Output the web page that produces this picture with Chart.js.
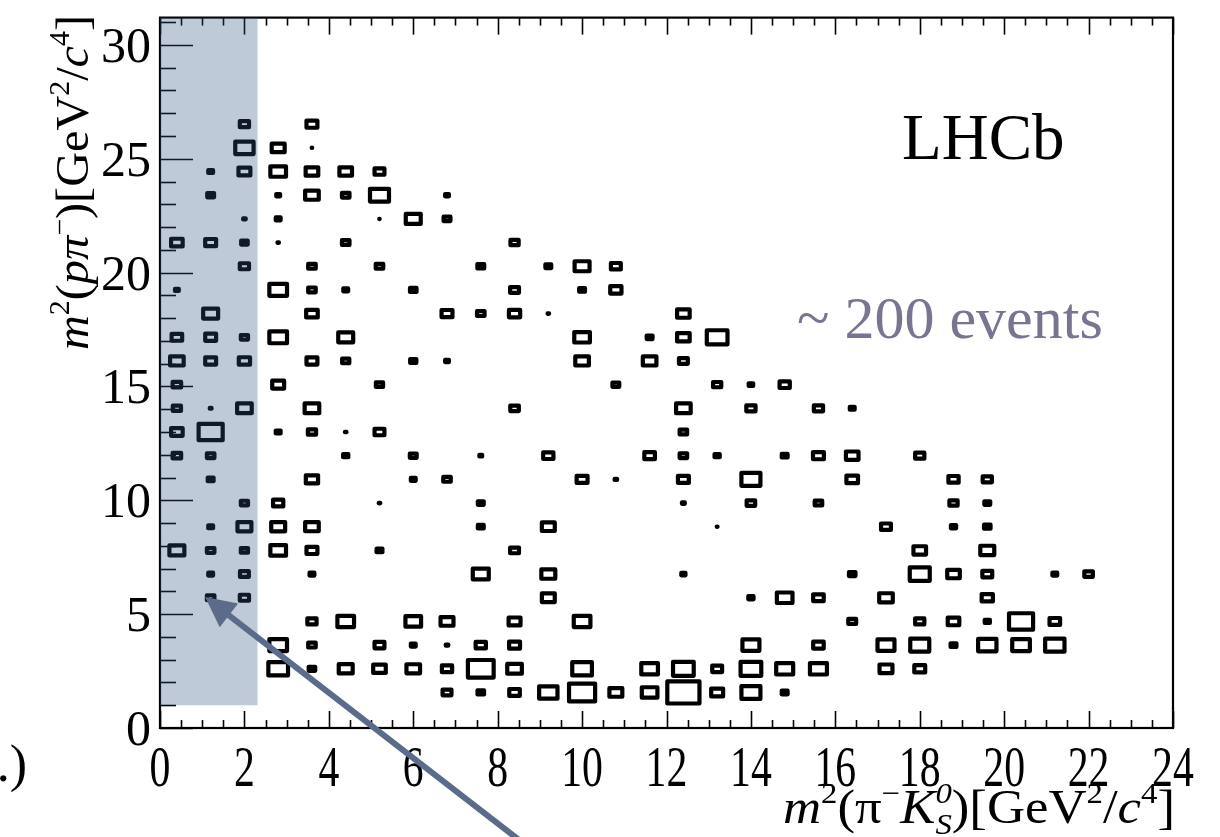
<!DOCTYPE html>
<html>
<head>
<meta charset="utf-8">
<script src="https://cdn.jsdelivr.net/npm/chart.js@4.4.1/dist/chart.umd.min.js"></script>
<style>
  html, body { margin: 0; padding: 0; background: #ffffff; }
  canvas { display: block; }
</style>
</head>
<body>
<canvas id="dalitz" width="1220" height="837"></canvas>
<script>
// Binning of the Dalitz plane: 30 x 30 cells
const xBinWidth = 0.8;
const yBinWidth = 1.04;
const xRange = [0, 24];
const yRange = [0, 31.2];

// Axis tick labels
const xTickLabels = ['0', '2', '4', '6', '8', '10', '12', '14', '16', '18', '20', '22', '24'];
const yTickLabels = ['0', '5', '10', '15', '20', '25', '30'];

// Occupied cells: [m2(pi- KS0) centre, m2(p pi-) centre, relative content]
const cells = [
  // m2(p pi-) = 26.52
  [2.0, 26.52, 0.32], [3.6, 26.52, 0.37],
  // 25.48
  [2.0, 25.48, 0.59], [2.8, 25.48, 0.43], [3.6, 25.48, 0.03],
  // 24.44
  [1.2, 24.44, 0.19], [2.0, 24.44, 0.40], [2.8, 24.44, 0.51], [3.6, 24.44, 0.42], [4.4, 24.44, 0.42], [5.2, 24.44, 0.34],
  // 23.40
  [1.2, 23.40, 0.25], [2.8, 23.40, 0.16], [3.6, 23.40, 0.45], [4.4, 23.40, 0.27], [5.2, 23.40, 0.61], [6.8, 23.40, 0.16],
  // 22.36
  [2.0, 22.36, 0.12], [2.8, 22.36, 0.19], [5.2, 22.36, 0.06], [6.0, 22.36, 0.49], [6.8, 22.36, 0.25],
  // 21.32
  [0.4, 21.32, 0.39], [1.2, 21.32, 0.37], [2.0, 21.32, 0.24], [2.8, 21.32, 0.09], [4.4, 21.32, 0.27], [8.4, 21.32, 0.29],
  // 20.28
  [2.0, 20.28, 0.32], [3.6, 20.28, 0.27], [5.2, 20.28, 0.27], [7.6, 20.28, 0.25], [9.2, 20.28, 0.22], [10.0, 20.28, 0.49], [10.8, 20.28, 0.34],
  // 19.24
  [0.4, 19.24, 0.16], [2.8, 19.24, 0.57], [3.6, 19.24, 0.27], [4.4, 19.24, 0.19], [6.0, 19.24, 0.24], [8.4, 19.24, 0.31], [10.0, 19.24, 0.22], [10.8, 19.24, 0.38],
  // 18.20
  [1.2, 18.20, 0.49], [3.6, 18.20, 0.39], [6.8, 18.20, 0.37], [7.6, 18.20, 0.27], [8.4, 18.20, 0.38], [9.2, 18.20, 0.09], [12.4, 18.20, 0.42],
  // 17.16
  [0.4, 17.16, 0.36], [1.2, 17.16, 0.37], [2.0, 17.16, 0.26], [2.8, 17.16, 0.57], [4.4, 17.16, 0.49], [10.0, 17.16, 0.51], [11.6, 17.16, 0.22], [12.4, 17.16, 0.42], [13.2, 17.16, 0.66],
  // 16.12
  [0.4, 16.12, 0.45], [1.2, 16.12, 0.37], [2.0, 16.12, 0.38], [3.6, 16.12, 0.37], [4.4, 16.12, 0.26], [6.0, 16.12, 0.23], [6.8, 16.12, 0.16], [10.0, 16.12, 0.45], [11.6, 16.12, 0.45], [12.4, 16.12, 0.31],
  // 15.08
  [0.4, 15.08, 0.30], [2.8, 15.08, 0.40], [5.2, 15.08, 0.26], [10.8, 15.08, 0.25], [13.2, 15.08, 0.29], [14.0, 15.08, 0.18], [14.8, 15.08, 0.35],
  // 14.04
  [0.4, 14.04, 0.29], [1.2, 14.04, 0.10], [2.0, 14.04, 0.48], [3.6, 14.04, 0.48], [8.4, 14.04, 0.30], [12.4, 14.04, 0.48], [14.0, 14.04, 0.32], [15.6, 14.04, 0.32], [16.4, 14.04, 0.19],
  // 13.00
  [0.4, 13.00, 0.39], [1.2, 13.00, 0.76], [2.8, 13.00, 0.19], [3.6, 13.00, 0.29], [4.4, 13.00, 0.09], [5.2, 13.00, 0.34], [12.4, 13.00, 0.27],
  // 11.96
  [0.4, 11.96, 0.30], [1.2, 11.96, 0.27], [4.4, 11.96, 0.20], [6.0, 11.96, 0.25], [7.6, 11.96, 0.13], [9.2, 11.96, 0.35], [11.6, 11.96, 0.36], [12.4, 11.96, 0.27], [13.2, 11.96, 0.20], [14.8, 11.96, 0.22], [15.6, 11.96, 0.37], [16.4, 11.96, 0.42], [18.0, 11.96, 0.32],
  // 10.92
  [1.2, 10.92, 0.22], [3.6, 10.92, 0.41], [6.0, 10.92, 0.19], [6.8, 10.92, 0.27], [10.0, 10.92, 0.37], [10.8, 10.92, 0.12], [12.4, 10.92, 0.37], [14.0, 10.92, 0.61], [16.4, 10.92, 0.39], [18.8, 10.92, 0.35], [19.6, 10.92, 0.32],
  // 9.88
  [2.0, 9.88, 0.26], [2.8, 9.88, 0.35], [5.2, 9.88, 0.09], [7.6, 9.88, 0.22], [12.4, 9.88, 0.13], [14.0, 9.88, 0.30], [15.6, 9.88, 0.27], [18.8, 9.88, 0.29], [19.6, 9.88, 0.22],
  // 8.84
  [1.2, 8.84, 0.19], [2.0, 8.84, 0.46], [2.8, 8.84, 0.46], [3.6, 8.84, 0.45], [7.6, 8.84, 0.22], [9.2, 8.84, 0.43], [13.2, 8.84, 0.07], [17.2, 8.84, 0.34], [18.8, 8.84, 0.20], [19.6, 8.84, 0.24],
  // 7.80
  [0.4, 7.80, 0.49], [1.2, 7.80, 0.27], [2.0, 7.80, 0.26], [2.8, 7.80, 0.51], [3.6, 7.80, 0.37], [5.2, 7.80, 0.22], [8.4, 7.80, 0.31], [18.0, 7.80, 0.42], [19.6, 7.80, 0.46],
  // 6.76
  [1.2, 6.76, 0.19], [2.0, 6.76, 0.31], [3.6, 6.76, 0.19], [7.6, 6.76, 0.52], [9.2, 6.76, 0.46], [12.4, 6.76, 0.17], [16.4, 6.76, 0.24], [18.0, 6.76, 0.64], [18.8, 6.76, 0.42], [19.6, 6.76, 0.34], [21.2, 6.76, 0.19], [22.0, 6.76, 0.30],
  // 5.72
  [1.2, 5.72, 0.27], [2.0, 5.72, 0.32], [9.2, 5.72, 0.43], [14.0, 5.72, 0.20], [14.8, 5.72, 0.51], [15.6, 5.72, 0.36], [17.2, 5.72, 0.45], [19.6, 5.72, 0.38],
  // 4.68
  [3.6, 4.68, 0.32], [4.4, 4.68, 0.54], [6.0, 4.68, 0.51], [6.8, 4.68, 0.43], [8.4, 4.68, 0.40], [10.0, 4.68, 0.54], [16.4, 4.68, 0.28], [18.0, 4.68, 0.32], [18.8, 4.68, 0.39], [19.6, 4.68, 0.20], [20.4, 4.68, 0.76], [21.2, 4.68, 0.36],
  // 3.64
  [2.8, 3.64, 0.57], [3.6, 3.64, 0.27], [5.2, 3.64, 0.34], [6.0, 3.64, 0.19], [6.8, 3.64, 0.12], [7.6, 3.64, 0.35], [8.4, 3.64, 0.37], [14.0, 3.64, 0.55], [15.6, 3.64, 0.36], [17.2, 3.64, 0.55], [18.0, 3.64, 0.61], [18.8, 3.64, 0.22], [19.6, 3.64, 0.59], [20.4, 3.64, 0.57], [21.2, 3.64, 0.62],
  // 2.60
  [2.8, 2.60, 0.63], [3.6, 2.60, 0.24], [4.4, 2.60, 0.46], [5.2, 2.60, 0.42], [6.0, 2.60, 0.45], [6.8, 2.60, 0.35], [7.6, 2.60, 0.81], [8.4, 2.60, 0.48], [10.0, 2.60, 0.63], [11.6, 2.60, 0.54], [12.4, 2.60, 0.66], [13.2, 2.60, 0.34], [14.0, 2.60, 0.66], [14.8, 2.60, 0.55], [15.6, 2.60, 0.55], [17.2, 2.60, 0.43], [18.0, 2.60, 0.37],
  // 1.56
  [6.8, 1.56, 0.31], [7.6, 1.56, 0.24], [8.4, 1.56, 0.36], [9.2, 1.56, 0.59], [10.0, 1.56, 0.82], [10.8, 1.56, 0.43], [11.6, 1.56, 0.51], [12.4, 1.56, 1.00], [13.2, 1.56, 0.40], [14.0, 1.56, 0.61], [14.8, 1.56, 0.22]
];

// Highlighted low-m2(pi- KS0) band and the pointer into it (data coordinates)
const bandX = [0, 2.31];
const bandY = [1.0, 31.2];
const arrowTail = [8.53, -4.95];
const arrowHead = [1.07, 5.75];

const experimentLabel = 'LHCb';
const yieldLabel = '~ 200 events';

const SERIF = '"Liberation Serif", "Times New Roman", serif';

// ---- rich text helpers (super/subscripts) ----
function segFont(seg, size) {
  const s = seg.pos || seg.stack ? 0.62 * size : size;
  return (seg.it ? 'italic ' : '') + s.toFixed(1) + 'px ' + SERIF;
}
function segWidth(ctx, seg, size) {
  ctx.font = segFont(seg, size);
  if (seg.stack) {
    return Math.max(ctx.measureText(seg.stack[0]).width, ctx.measureText(seg.stack[1]).width);
  }
  return ctx.measureText(seg.t).width;
}
function richWidth(ctx, segs, size) {
  return segs.reduce((w, s) => w + segWidth(ctx, s, size), 0);
}
function drawRich(ctx, segs, size, x0, base) {
  let x = x0;
  ctx.textAlign = 'left';
  ctx.textBaseline = 'alphabetic';
  for (const seg of segs) {
    const w = segWidth(ctx, seg, size);
    ctx.font = segFont(seg, size);
    if (seg.stack) {
      ctx.fillText(seg.stack[0], x, base + 0.22 * size);
      ctx.fillText(seg.stack[1], x, base - 0.42 * size);
    } else {
      const dy = seg.pos === 'sup' ? -0.42 * size : seg.pos === 'sub' ? 0.22 * size : 0;
      ctx.fillText(seg.t, x, base + dy);
    }
    x += w;
  }
}

const yTitle = [
  { t: 'm', it: true }, { t: '2', pos: 'sup' }, { t: '(' }, { t: 'p', it: true }, { t: '\u03C0', it: true },
  { t: '\u2212', pos: 'sup' }, { t: ')[GeV' }, { t: '2', pos: 'sup' }, { t: '/' }, { t: 'c', it: true },
  { t: '4', pos: 'sup' }, { t: ']' }
];
const xTitle = [
  { t: 'm', it: true }, { t: '2', pos: 'sup' }, { t: '(\u03C0' }, { t: '\u2212', pos: 'sup' }, { t: 'K', it: true },
  { stack: ['S', '0'], it: true }, { t: ')[GeV' }, { t: '2', pos: 'sup' }, { t: '/' }, { t: 'c', it: true },
  { t: '4', pos: 'sup' }, { t: ']' }
];

// ---- cell boxes: side length proportional to content ----
const BOX_LINE = 4.2;
const boxPlugin = {
  id: 'cellBoxes',
  afterDatasetsDraw(chart) {
    const { ctx } = chart;
    const { x, y } = chart.scales;
    const meta = chart.getDatasetMeta(0);
    const data = chart.data.datasets[0].data;
    const maxV = Math.max(...data.map(d => d.v));
    const bw = Math.abs(x.getPixelForValue(xBinWidth) - x.getPixelForValue(0));
    const bh = Math.abs(y.getPixelForValue(yBinWidth) - y.getPixelForValue(0));
    // outline is drawn inside-out so that the outer edge grows by 1.3 px per side
    const inset = BOX_LINE - 2.6;
    ctx.save();
    ctx.strokeStyle = '#000000';
    ctx.lineWidth = BOX_LINE;
    ctx.lineJoin = 'round';
    meta.data.forEach((el, i) => {
      const f = data[i].v / maxV;
      const w = Math.max(0.4, f * bw - inset);
      const h = Math.max(0.3, f * bh - inset);
      ctx.strokeRect(el.x - w / 2, el.y - h / 2, w, h);
    });
    ctx.restore();
  }
};

// ---- frame, ticks, labels, band, arrow, annotations ----
const decorPlugin = {
  id: 'decor',
  afterDraw(chart) {
    const { ctx, chartArea: a } = chart;
    const { x, y } = chart.scales;
    const line = (x1, y1, x2, y2) => { ctx.beginPath(); ctx.moveTo(x1, y1); ctx.lineTo(x2, y2); ctx.stroke(); };
    ctx.save();

    // x ticks (bottom and top), major every 2, minor every 0.5
    const xMajor = xTickLabels.map(Number);
    ctx.strokeStyle = '#000';
    ctx.lineWidth = 1.6;
    for (let k = 0; k <= 48; k++) {
      const v = k * 0.5;
      const px = Math.round(x.getPixelForValue(v)) + 0.5;
      const len = xMajor.includes(v) ? 17 : 8;
      line(px, a.bottom, px, a.bottom - len);
      line(px, a.top, px, a.top + len);
    }
    // y ticks (left), major every 5, minor every 1
    const yMajor = yTickLabels.map(Number);
    for (let v = 0; v <= 31; v++) {
      const py = Math.round(y.getPixelForValue(v)) + 0.5;
      const len = yMajor.includes(v) ? 33 : 16;
      line(a.left, py, a.left + len, py);
    }
    // frame
    ctx.lineWidth = 2.2;
    ctx.strokeRect(a.left, a.top, a.right - a.left, a.bottom - a.top);

    // highlighted band
    const bx0 = x.getPixelForValue(bandX[0]), bx1 = x.getPixelForValue(bandX[1]);
    const by0 = y.getPixelForValue(bandY[0]), by1 = y.getPixelForValue(bandY[1]);
    ctx.fillStyle = 'rgba(50, 83, 133, 0.31)';
    ctx.fillRect(bx0, by1, bx1 - bx0, by0 - by1);

    // tick labels
    ctx.fillStyle = '#000';
    ctx.textBaseline = 'alphabetic';
    ctx.font = '58px ' + SERIF;
    ctx.textAlign = 'center';
    xTickLabels.forEach(lbl => {
      const px = x.getPixelForValue(Number(lbl));
      ctx.save();
      ctx.translate(px, a.bottom + 58);
      ctx.scale(0.72, 1);
      ctx.fillText(lbl, 0, 0);
      ctx.restore();
    });
    ctx.font = '50px ' + SERIF;
    ctx.textAlign = 'right';
    yTickLabels.forEach(lbl => {
      const py = y.getPixelForValue(Number(lbl));
      ctx.fillText(lbl, a.left - 9, py + 17);
    });

    // axis titles
    const xs = 48;
    const xw = richWidth(ctx, xTitle, xs);
    ctx.save();
    ctx.translate(a.right + 2, 823);
    ctx.scale(392 / xw, 1);
    drawRich(ctx, xTitle, xs, -xw, 0);
    ctx.restore();

    const ys = 46;
    const yw = richWidth(ctx, yTitle, ys);
    ctx.save();
    ctx.translate(88, 350);
    ctx.rotate(-Math.PI / 2);
    ctx.scale(335 / yw, 1);
    drawRich(ctx, yTitle, ys, 0, 0);
    ctx.restore();

    // annotations
    ctx.fillStyle = '#000';
    ctx.textAlign = 'left';
    ctx.font = '65px ' + SERIF;
    ctx.fillText(experimentLabel, 902, 159);
    ctx.fillStyle = '#777591';
    ctx.font = '60px ' + SERIF;
    ctx.fillText(yieldLabel, 797, 338);

    // fragment of the neighbouring panel's caption
    ctx.fillStyle = '#000';
    ctx.textAlign = 'right';
    ctx.font = '52px ' + SERIF;
    ctx.fillText('.)', 27, 781);

    // arrow into the band
    const tx = x.getPixelForValue(arrowTail[0]), ty = y.getPixelForValue(arrowTail[1]);
    const hx = x.getPixelForValue(arrowHead[0]), hy = y.getPixelForValue(arrowHead[1]);
    const ang = Math.atan2(hy - ty, hx - tx);
    const headLen = 30, headHalf = 15;
    const bxp = hx - headLen * Math.cos(ang), byp = hy - headLen * Math.sin(ang);
    ctx.strokeStyle = '#5b6b8a';
    ctx.fillStyle = '#5b6b8a';
    ctx.lineWidth = 6;
    ctx.lineCap = 'butt';
    line(tx, ty, bxp + 2 * Math.cos(ang), byp + 2 * Math.sin(ang));
    ctx.beginPath();
    ctx.moveTo(hx, hy);
    ctx.lineTo(bxp + headHalf * Math.sin(ang), byp - headHalf * Math.cos(ang));
    ctx.lineTo(bxp - headHalf * Math.sin(ang), byp + headHalf * Math.cos(ang));
    ctx.closePath();
    ctx.fill();

    ctx.restore();
  }
};

new Chart(document.getElementById('dalitz'), {
  type: 'scatter',
  data: {
    datasets: [{
      data: cells.map(([cx, cy, v]) => ({ x: cx, y: cy, v })),
      pointRadius: 0,
      pointHoverRadius: 0
    }]
  },
  options: {
    responsive: false,
    animation: false,
    devicePixelRatio: 1,
    events: [],
    layout: { padding: { left: 160, right: 47, top: 17.6, bottom: 109 } },
    scales: {
      x: { type: 'linear', min: xRange[0], max: xRange[1], display: false },
      y: { type: 'linear', min: yRange[0], max: yRange[1], display: false }
    },
    plugins: { legend: { display: false }, tooltip: { enabled: false }, title: { display: false } }
  },
  plugins: [boxPlugin, decorPlugin]
});
</script>
</body>
</html>
